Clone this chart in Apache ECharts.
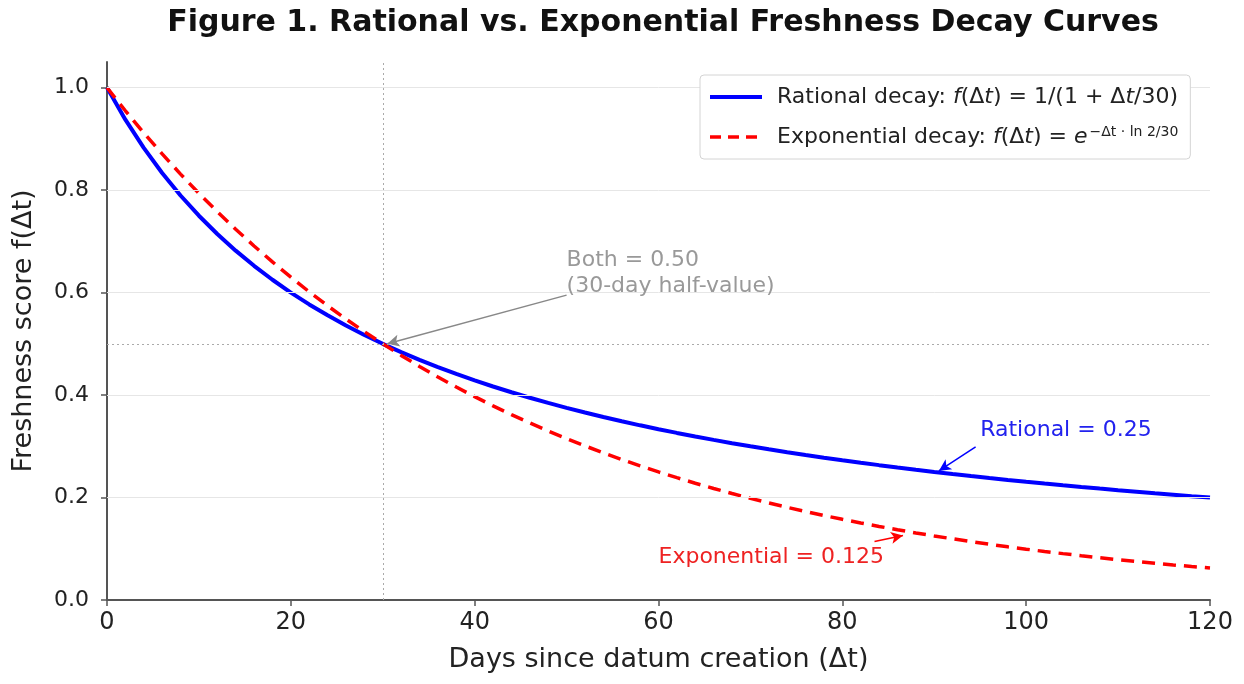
<!DOCTYPE html>
<html>
<head>
<meta charset="utf-8">
<script src="https://cdn.jsdelivr.net/npm/echarts@6/dist/echarts.min.js"></script>
<style>html,body{margin:0;padding:0;background:#fff}#c{width:1244px;height:684px}</style>
</head>
<body>
<div id="c"></div>
<script>
// Days since creation (every 2 days)
const days = [0,2,4,6,8,10,12,14,16,18,20,22,24,26,28,30,32,34,36,38,40,42,44,46,48,50,52,54,56,58,60,
  62,64,66,68,70,72,74,76,78,80,82,84,86,88,90,92,94,96,98,100,102,104,106,108,110,112,114,116,118,120];
// Rational decay values
const rational = [1.000,0.9375,0.8824,0.8333,0.7895,0.7500,0.7143,0.6818,0.6522,0.6250,0.6000,0.5769,0.5556,0.5357,0.5172,0.5000,
  0.4839,0.4688,0.4545,0.4412,0.4286,0.4167,0.4054,0.3947,0.3846,0.3750,0.3659,0.3571,0.3488,0.3409,0.3333,
  0.3261,0.3191,0.3125,0.3061,0.3000,0.2941,0.2885,0.2830,0.2778,0.2727,0.2679,0.2632,0.2586,0.2542,0.2500,
  0.2459,0.2419,0.2381,0.2344,0.2308,0.2273,0.2239,0.2206,0.2174,0.2143,0.2113,0.2083,0.2055,0.2027,0.2000];
// Exponential decay values
const exponential = [1.000,0.9548,0.9117,0.8706,0.8312,0.7937,0.7579,0.7236,0.6909,0.6598,0.6300,0.6014,0.5743,0.5484,0.5237,0.5000,
  0.4774,0.4559,0.4353,0.4156,0.3969,0.3789,0.3618,0.3455,0.3299,0.3150,0.3008,0.2872,0.2742,0.2618,0.2500,
  0.2387,0.2279,0.2176,0.2078,0.1984,0.1895,0.1809,0.1727,0.1649,0.1575,0.1504,0.1436,0.1371,0.1309,0.1250,
  0.1194,0.1140,0.1088,0.1039,0.0992,0.0947,0.0905,0.0864,0.0825,0.0787,0.0752,0.0718,0.0685,0.0654,0.0625];
const yTicks = [0,0.2,0.4,0.6,0.8,1.0];
// Annotations: text anchor + arrow (data coords)
const annBoth = {text:['Both = 0.50','(30-day half-value)'], tx:50, ty:0.637, from:[50,0.595], to:[30.5,0.5]};
const annRat = {text:['Rational = 0.25'], tx:95, ty:0.332, from:[94.5,0.299], to:[90.5,0.252]};
const annExp = {text:['Exponential = 0.125'], tx:60, ty:0.083, from:[83.5,0.114], to:[86.6,0.126]};

const FONT = 'DejaVu Sans';
const chart = echarts.init(document.getElementById('c'));
const pair = (xs, ys) => xs.map((x,i)=>[x, ys[i]]);

const option = {
  animation:false,
  backgroundColor:'#ffffff',
  textStyle:{fontFamily:FONT},
  title:{text:'Figure 1. Rational vs. Exponential Freshness Decay Curves', left:658, top:3, textAlign:'center',
    textStyle:{fontFamily:FONT, fontWeight:'bold', fontSize:30, color:'#111'}},
  grid:{left:107, right:34, top:62, bottom:84},
  legend:{
    left:700, top:75, orient:'vertical', itemWidth:52, itemHeight:14, itemGap:16, z:20,
    padding:[10,12,10,8], backgroundColor:'#ffffff', borderColor:'#d4d4d4', borderWidth:1, borderRadius:4,
    data:[{name:'rat', lineStyle:{color:'#0000ff', width:4}},
          {name:'exp', lineStyle:{color:'#ff0000', width:3.5, type:[11,7]}}],
    itemStyle:{opacity:0},
    formatter:function(n){
      if(n==='rat') return 'Rational decay: {i|f}(Δ{i|t}) = 1/(1 + Δ{i|t}/30)';
      return 'Exponential decay: {i|f}(Δ{i|t}) = {i|e}{sup|−Δt · ln 2/30}';
    },
    textStyle:{fontFamily:FONT, fontSize:22, color:'#222', lineHeight:24, padding:[0,0,0,10],
      rich:{i:{fontStyle:'italic', fontFamily:FONT, fontSize:22, color:'#222'},
            sup:{fontSize:14, fontFamily:FONT, color:'#222', verticalAlign:'top', padding:[0,0,10,2]}}}
  },
  xAxis:{type:'value', min:0, max:120, interval:20,
    name:'Days since datum creation (Δt)', nameLocation:'middle', nameGap:46,
    nameTextStyle:{fontFamily:FONT, fontSize:27, color:'#222'},
    axisLine:{show:true, onZero:false, lineStyle:{color:'#555', width:2}},
    axisTick:{show:true, length:6, lineStyle:{color:'#555', width:1.5}},
    axisLabel:{fontFamily:FONT, fontSize:24, color:'#222', margin:11},
    splitLine:{show:false}},
  yAxis:{type:'value', min:0, max:1.05,
    name:'Freshness score f(Δt)', nameLocation:'middle', nameGap:70,
    nameTextStyle:{fontFamily:FONT, fontSize:27, color:'#222'},
    axisLine:{show:true, lineStyle:{color:'#555', width:2}},
    axisTick:{show:true, length:6, customValues:yTicks, lineStyle:{color:'#555', width:1.5}},
    axisLabel:{fontFamily:FONT, fontSize:22, color:'#222', margin:18, customValues:yTicks,
      formatter:v=>v.toFixed(1)},
    splitLine:{show:false}},
  series:[
    {name:'rat', type:'line', data:pair(days, rational), showSymbol:false, symbol:'none',
      lineStyle:{color:'#0000ff', width:4}, itemStyle:{color:'#0000ff'}, z:3,
      markLine:{silent:true, symbol:'none', label:{show:false}, animation:false,
        lineStyle:{color:'#e6e6e6', width:1, type:'solid'},
        data: yTicks.filter(v=>v>0).map(v=>({yAxis:v}))}
    },
    {name:'exp', type:'line', data:pair(days, exponential), showSymbol:false, symbol:'none',
      lineStyle:{color:'#ff0000', width:3.5, type:[13,8]}, itemStyle:{color:'#ff0000'}, z:4,
      markLine:{silent:true, symbol:'none', label:{show:false}, animation:false,
        lineStyle:{color:'#aaaaaa', width:1, type:[2,3]},
        data:[{xAxis:30},{yAxis:0.5}]}
    },
    {name:'ann', type:'line', data:[], showSymbol:false,
      markLine:{silent:true, symbol:['none','arrow'], symbolSize:[9,12], label:{show:false}, animation:false,
        data:[
          [{coord:annBoth.from, lineStyle:{color:'#888', width:1.5, type:'solid'}},{coord:annBoth.to}],
          [{coord:annRat.from, lineStyle:{color:'#0000ff', width:1.5, type:'solid'}},{coord:annRat.to}],
          [{coord:annExp.from, lineStyle:{color:'#ff0000', width:1.5, type:'solid'}},{coord:annExp.to}]
        ]}
    }
  ]
};
chart.setOption(option);

function placeText(a, color){
  const p = chart.convertToPixel({gridIndex:0}, [a.tx, a.ty]);
  return {type:'text', x:p[0], y:p[1], z:10, style:{text:a.text.join('\n'), fill:color, font:'22px "DejaVu Sans"', lineHeight:26, textVerticalAlign:'middle'}};
}
chart.setOption({graphic:[placeText(annBoth,'#999999'), placeText(annRat,'#2222ee'), placeText(annExp,'#ee2222')]});
</script>
</body>
</html>
